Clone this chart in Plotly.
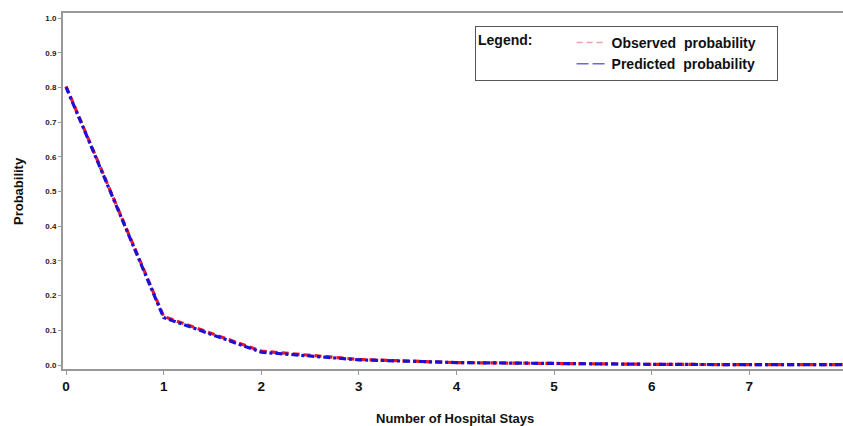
import plotly.graph_objects as go

stays = [0, 1, 2, 3, 4, 5, 6, 7, 8]
observed = [0.803, 0.140, 0.040, 0.016, 0.007, 0.004, 0.002, 0.001, 0.001]
predicted = [0.801, 0.137, 0.037, 0.015, 0.007, 0.004, 0.002, 0.001, 0.001]
y_ticks = [0.0, 0.1, 0.2, 0.3, 0.4, 0.5, 0.6, 0.7, 0.8, 0.9, 1.0]
x_ticks = [0, 1, 2, 3, 4, 5, 6, 7, 8]

FONT = "Liberation Sans, Arial, sans-serif"
W, H = 843, 426
L, R, T, B = 63, 0, 13, 57
PW, PH = W - L - R, H - T - B
X_RANGE = [-0.031, 7.96]

fig = go.Figure()
fig.add_trace(go.Scatter(x=stays, y=observed, mode="lines", showlegend=False,
                         line=dict(color="#e8182a", width=3.2, dash="7px,4px")))
fig.add_trace(go.Scatter(x=stays, y=predicted, mode="lines", showlegend=False,
                         line=dict(color="#1a10d8", width=3.2, dash="7px,3px,3px,3px")))
# legend entries
fig.add_trace(go.Scatter(x=[None], y=[None], mode="lines",
                         name="Observed  probability&nbsp;&nbsp;&nbsp;&nbsp;",
                         line=dict(color="#f0a0a8", width=1.5, dash="6px,4px")))
fig.add_trace(go.Scatter(x=[None], y=[None], mode="lines",
                         name="Predicted  probability&nbsp;&nbsp;&nbsp;&nbsp;",
                         line=dict(color="#6a6ae0", width=1.5, dash="12px,4px")))

fig.add_annotation(text="<b>Number of Hospital Stays</b>", xref="paper", yref="paper",
                   x=(455 - L) / PW, y=-(418 - (T + PH)) / PH, xanchor="center", yanchor="middle",
                   showarrow=False, font=dict(size=13, family=FONT, color="#111"))
fig.add_annotation(text="<b>Probability</b>", xref="paper", yref="paper",
                   x=-(L - 18) / PW, y=0.5, xanchor="center", yanchor="middle", textangle=-90,
                   showarrow=False, font=dict(size=13, family=FONT, color="#111"))
# last tick label, cut by the right edge in the reference
last = x_ticks[-1]
fig.add_annotation(text="<b>%d</b>" % last, xref="paper", yref="paper",
                   x=(last - X_RANGE[0]) / (X_RANGE[1] - X_RANGE[0]), y=-(390 - (T + PH)) / PH,
                   xanchor="center", yanchor="middle", showarrow=False,
                   font=dict(size=13.5, family=FONT, color="#111"))

fig.update_layout(
    width=W, height=H,
    margin=dict(l=L, r=R, t=T, b=B, autoexpand=False),
    paper_bgcolor="white", plot_bgcolor="white",
    font=dict(family=FONT, color="#111"),
    legend=dict(
        x=(475 - L) / PW, xanchor="left", y=1 - (26 - T) / PH, yanchor="top",
        bordercolor="#555", borderwidth=1, bgcolor="white",
        font=dict(size=14, family=FONT, color="#111", weight="bold"),
        title=dict(text="<b>Legend:</b>&nbsp;&nbsp;&nbsp;&nbsp;&nbsp;&nbsp;&nbsp;&nbsp;", side="left",
                   font=dict(size=14, family=FONT)),
        tracegroupgap=0, itemwidth=30,
    ),
    xaxis=dict(
        range=X_RANGE, tickvals=x_ticks, ticktext=[str(v) for v in x_ticks],
        automargin=False,
        showgrid=False, zeroline=False, showline=True, linecolor="#999", linewidth=2,
        mirror=True, ticks="outside", ticklen=4, tickcolor="#999", tickwidth=1,
        tickfont=dict(size=13.5, family=FONT, color="#111", weight="bold"),
    ),
    yaxis=dict(
        range=[-0.0115, 1.0144], tickvals=y_ticks, tickformat=".1f",
        automargin=False,
        showgrid=False, zeroline=False, showline=True, linecolor="#999", linewidth=2,
        ticks="outside", ticklen=3, tickcolor="#999", tickwidth=1,
        tickfont=dict(size=8, family=FONT, color="#222", weight="bold"),
    ),
)

fig.write_html("out.html", config={"displayModeBar": False},
               post_script="document.body.style.margin='0';")
